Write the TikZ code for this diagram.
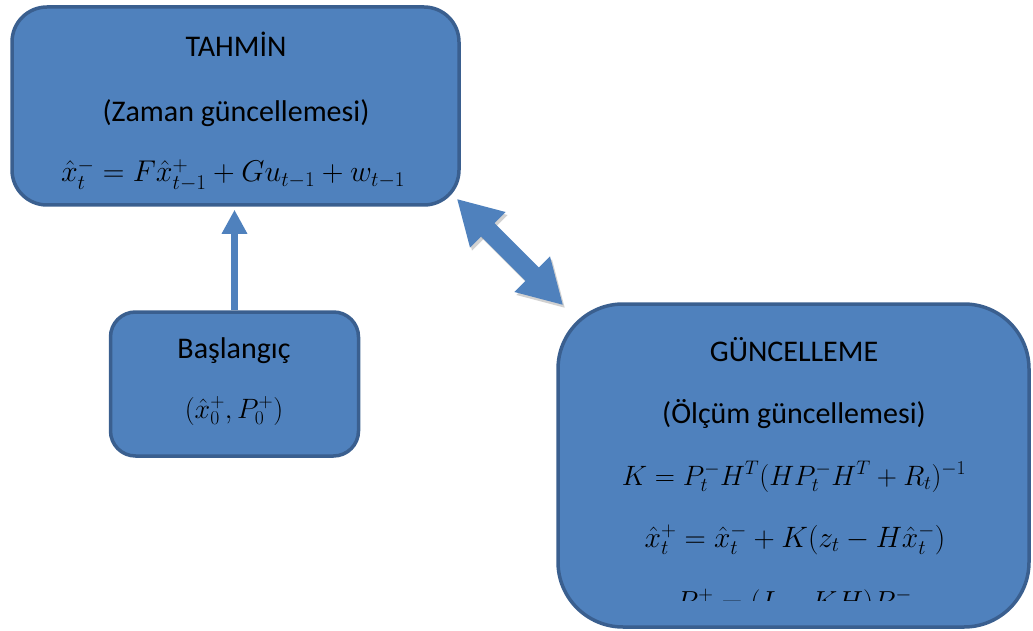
\RequirePackage{fix-cm}
\documentclass[tikz,border=0pt]{standalone}
\usepackage{fontspec}
\setmainfont{Carlito}
\usetikzlibrary{arrows.meta}
\definecolor{boxfill}{HTML}{4F81BD}
\definecolor{boxline}{HTML}{3A5F8F}
\begin{document}
\begin{tikzpicture}[x=1pt,y=-1pt,
  box/.style={draw=boxline, line width=3.5pt, fill=boxfill, rounded corners=#1, inner sep=0pt},
  lbl/.style={font=\fontsize{30}{36}\selectfont, inner sep=0pt, anchor=base},
  eq/.style={font=\fontsize{#1}{36}\selectfont, inner sep=0pt, anchor=base},
  uparrow/.style={draw=boxfill, line width=7pt, -{Triangle[length=24pt,width=24pt]}},
  darrow/.style={draw=boxfill, line width=19pt, {Triangle[length=44pt,width=47pt]}-{Triangle[length=44pt,width=47pt]}},
  dshadow/.style={draw=black, opacity=0.18, line width=19pt, {Triangle[length=44pt,width=47pt]}-{Triangle[length=44pt,width=47pt]}},
]
\useasboundingbox (0,0) rectangle (1033,631);

% boxes
\node[box=35pt, minimum width=447pt, minimum height=198pt] (tahmin) at (235.5,106) {};
\node[box=25pt, minimum width=248pt, minimum height=144pt] (baslangic) at (234.5,384) {};
\node[box=65pt, minimum width=471pt, minimum height=323pt] (guncelleme) at (793.5,465.5) {};

% texts of TAHMIN
\node[lbl] (t1) at (236,57) {TAHMİN};
\node[lbl] (t2) at (236,122) {(Zaman güncellemesi)};
\node[eq=30] (t3) at (233,182) {$\hat{x}_t^- = F\hat{x}_{t-1}^+ + Gu_{t-1} + w_{t-1}$};

% texts of Baslangic
\node[lbl] (b1) at (234,358) {Başlangıç};
\node[eq=28] (b2) at (234,418) {$(\hat{x}_0^+, P_0^+)$};

% texts of GUNCELLEME
\node[lbl] (g1) at (794,361) {GÜNCELLEME};
\node[lbl] (g2) at (794,423) {(Ölçüm güncellemesi)};
\node[eq=28] (g3) at (794,485) {$K = P_t^- H^T (H P_t^- H^T + R_t)^{-1}$};
\node[eq=29.5] (g4) at (795,547) {$\hat{x}_t^+ = \hat{x}_t^- + K(z_t - H\hat{x}_t^-)$};
\begin{scope}
  \clip (600,565) rectangle (1000,600);
  \node[eq=29] (g5) at (794,611) {$P_t^+ = (I - KH)P_t^-$};
\end{scope}

% connectors
\draw[uparrow] (baslangic.north) -- ([yshift=-3pt]baslangic.north |- tahmin.south);
\coordinate (d1) at ([xshift=-4pt,yshift=8pt]tahmin.south east);
\coordinate (d2) at ([xshift=7pt,yshift=-3pt]guncelleme.north west);
\draw[dshadow] ([xshift=2pt,yshift=-3pt]d1) -- ([xshift=2pt,yshift=-3pt]d2);
\draw[darrow] (d1) -- (d2);
\end{tikzpicture}
\end{document}
